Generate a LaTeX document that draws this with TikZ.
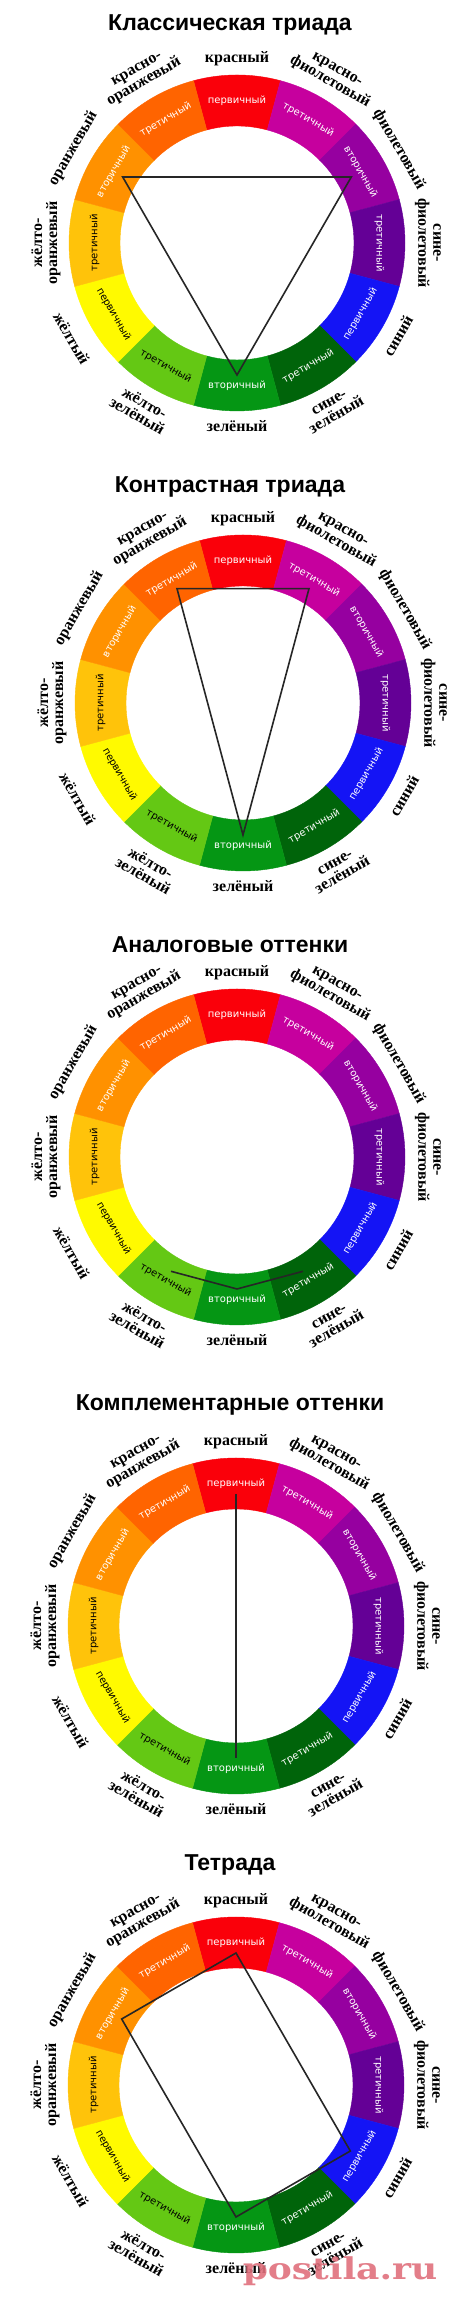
\documentclass[tikz,border=0pt]{standalone}
\usepackage{fontspec}
\setmainfont{Liberation Serif}
\setsansfont{Liberation Sans}
\newfontfamily\innfont{DejaVu Sans}
\newfontfamily\wmfont{DejaVu Serif}

\definecolor{cR}{RGB}{250,0,10}
\definecolor{cRV}{RGB}{198,0,158}
\definecolor{cV}{RGB}{150,0,160}
\definecolor{cBV}{RGB}{100,0,150}
\definecolor{cB}{RGB}{20,20,245}
\definecolor{cBG}{RGB}{0,100,10}
\definecolor{cG}{RGB}{5,150,20}
\definecolor{cYG}{RGB}{100,200,20}
\definecolor{cY}{RGB}{255,250,0}
\definecolor{cYO}{RGB}{255,195,10}
\definecolor{cO}{RGB}{255,145,0}
\definecolor{cRO}{RGB}{255,100,0}
\definecolor{wmc}{RGB}{224,112,125}

\begin{document}
\begin{tikzpicture}[x=1pt, y=1pt, ttl/.style={font=\sffamily\bfseries\fontsize{23}{26}\selectfont}, lab/.style={font=\bfseries\fontsize{16}{15}\selectfont, align=center, inner sep=0pt}, inn/.style={font=\innfont\fontsize{10}{12}\selectfont, inner sep=0pt}, n/.style={line width=1.6pt, draw=black!85}, wm/.style={font=\wmfont\bfseries\fontsize{30}{30}\selectfont, text=wmc, opacity=0.9, inner sep=0pt}]
                \fill[white] (0,0) rectangle (460,2302);
                \useasboundingbox (0,0) rectangle (460,2302);
                % wheels
                \foreach \k/\cx/\cy/\ty/\name in {1/237/2059/2277/{Классическая триада}, 2/243/1599/1815/{Контрастная триада}, 3/237/1145/1357/{Аналоговые оттенки}, 4/236/676/897/{Комплементарные оттенки}, 5/236/217/437/{Тетрада}}{
                    \node[ttl] (t\k) at (230,\ty) {\name};
                    \begin{scope}[shift={(\cx,\cy)}]
                    \foreach \a/\c/\w/\tc/\l/\r/\rr in {90/cR/первичный/white/красный/0/184, 60/cRV/третичный/white/{красно-\\фиолетовый}/-30/192, 30/cV/вторичный/white/фиолетовый/-60/187, 0/cBV/третичный/white/{сине-\\фиолетовый}/-90/191, 330/cB/первичный/white/синий/60/186, 300/cBG/третичный/white/{сине-\\зелёный}/30/192, 270/cG/вторичный/white/зелёный/0/183, 240/cYG/третичный/black/{жёлто-\\зелёный}/-30/192, 210/cY/первичный/black/жёлтый/-60/191, 180/cYO/третичный/black/{жёлто-\\оранжевый}/90/191, 150/cO/вторичный/white/оранжевый/60/189, 120/cRO/третичный/white/{красно-\\оранжевый}/30/192}{
                        \filldraw[fill=\c, draw=\c, line width=0.4pt] (\a-15:117) -- (\a-15:168) arc[start angle=\a-15, end angle=\a+15, radius=168] -- (\a+15:117) arc[start angle=\a+15, end angle=\a-15, radius=117] -- cycle;
                        \node[inn, text=\tc, rotate=\r] (i\k-\a) at (\a:142.5) {\w};
                        \node[lab, rotate=\r] (l\k-\a) at (\a:\rr) {\l};
                        \coordinate (p\k-\a) at (\a:132);
                    }
                    \end{scope}
                }
                % edges
                \draw[n] (p1-150) -- (p1-30) -- (p1-270) -- cycle;
                \draw[n] (p2-120) -- (p2-60) -- (p2-270) -- cycle;
                \draw[n] (p3-240) -- (p3-270) -- (p3-300);
                \draw[n] (p4-90) -- (p4-270);
                \draw[n] (p5-90) -- (p5-150) -- (p5-270) -- (p5-330) -- cycle;
                % watermark
                \node[wm, anchor=base] (wm) at (340,22) {\scalebox{1.2}[1]{postila.ru}};
            \end{tikzpicture}
\end{document}
